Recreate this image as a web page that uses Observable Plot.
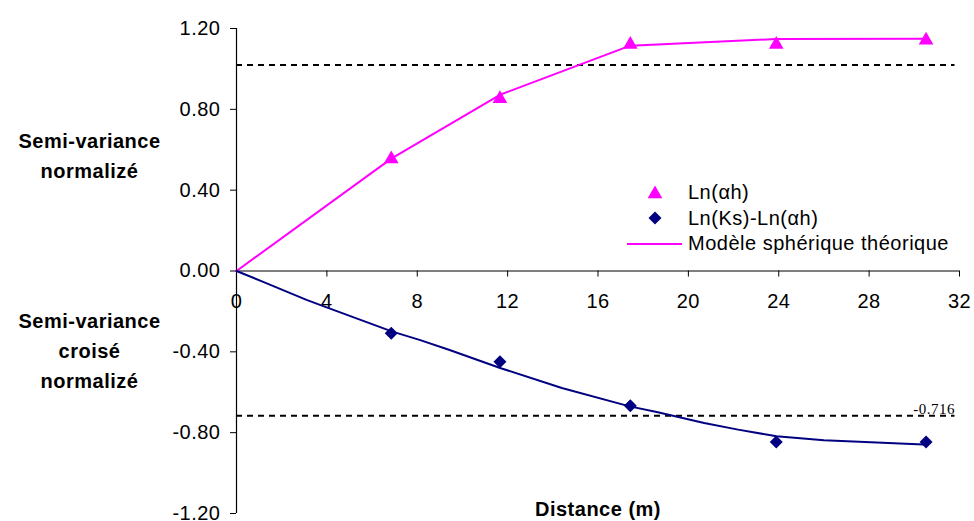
<!DOCTYPE html>
<html><head><meta charset="utf-8">
<script src="https://cdn.jsdelivr.net/npm/d3@7"></script>
<script src="https://cdn.jsdelivr.net/npm/@observablehq/plot@0.6"></script>
<style>body{margin:0;background:#fff} #chart svg{display:block}</style>
</head><body><div id="chart"></div>
<script>
// ---- data ----
const distances = [6.85, 11.66, 17.43, 23.89, 30.52];
const lnAlphaH = [0.564, 0.862, 1.131, 1.131, 1.152];
const lnKsMinusLnAlphaH = [-0.308, -0.449, -0.667, -0.846, -0.846];
const modelDist = [0, 6.85, 11.66, 17.43, 23.89, 30.52];
const modelValue = [0, 0.556, 0.872, 1.115, 1.148, 1.149];
const crossDist = [0, 1.1, 3.1, 3.9, 6.9, 8.1, 9.4, 11.7, 14.4, 17.4, 18.6, 20.7, 22.2, 23.9, 26.0, 30.4];
const crossValue = [0, -0.05, -0.143, -0.176, -0.300, -0.341, -0.390, -0.481, -0.579, -0.670, -0.698, -0.752, -0.785, -0.818, -0.838, -0.859];
const sillValues = [1.02, -0.716];
const sillLabels = ["", "-0.716"];
const xTicks = [0, 4, 8, 12, 16, 20, 24, 28, 32];
const yTicks = [-1.2, -0.8, -0.4, 0, 0.4, 0.8, 1.2];
const legendLabels = ["Ln(αh)", "Ln(Ks)-Ln(αh)", "Modèle sphérique théorique"];
const yTitleTop = "Semi-variance\nnormalizé";
const yTitleBottom = "Semi-variance\ncroisé\nnormalizé";
const xTitle = "Distance (m)";

// ---- derived tables ----
const triPts = distances.map((d, i) => ({x: d, y: lnAlphaH[i]}));
const diaPts = distances.map((d, i) => ({x: d, y: lnKsMinusLnAlphaH[i]}));
const model = modelDist.map((d, i) => ({x: d, y: modelValue[i]}));
const cross = crossDist.map((d, i) => ({x: d, y: crossValue[i]}));
const sills = sillValues.map((v, i) => ({y: v, label: sillLabels[i]}));

const MAG = "#FF00FF", NAVY = "#000080";
const FONT = "'Liberation Sans', Arial, sans-serif";

function legend(index, scales, values, dims) {
  const g = d3.create("svg:g").attr("font-family", FONT).attr("font-size", 20)
    .attr("fill", "#000").attr("text-anchor", "start");
  const x0 = 655, ys = [192, 218, 243], tx = 688;
  g.append("path").attr("transform", `translate(${x0},${ys[0] + 2})`)
    .attr("d", d3.symbol(d3.symbolTriangle, 93)()).attr("fill", MAG);
  g.append("path").attr("transform", `translate(${x0},${ys[1]})`)
    .attr("d", d3.symbol(d3.symbolDiamond2, 108)()).attr("fill", NAVY);
  g.append("line").attr("x1", 627).attr("x2", 682).attr("y1", ys[2] + 1).attr("y2", ys[2] + 1)
    .attr("stroke", MAG).attr("stroke-width", 2);
  legendLabels.forEach((t, i) => {
    g.append("text").attr("x", tx).attr("y", ys[i]).attr("dy", "0.35em").text(t);
  });
  return g.node();
}

const chart = Plot.plot({
  width: 974,
  height: 521,
  marginLeft: 236,
  marginRight: 15,
  marginTop: 28,
  marginBottom: 8,
  style: {fontFamily: FONT, fontSize: "20px", letterSpacing: "0.5px", background: "#fff", color: "#000"},
  x: {domain: [0, 32], axis: null},
  y: {domain: [-1.2, 1.2], axis: null},
  marks: [
    Plot.ruleY(sills, {y: "y", x1: 0, x2: 31.8, stroke: "#000", strokeWidth: 2, strokeDasharray: "6,5"}),
    Plot.text(sills, {x: 31.8, y: "y", text: "label", textAnchor: "end", lineAnchor: "bottom", dy: -2,
      fontFamily: "'Liberation Serif', 'Times New Roman', serif", fontSize: 15, letterSpacing: 0}),
    Plot.ruleX([0], {stroke: "#000", strokeWidth: 1.2}),
    Plot.ruleY([0], {stroke: "#000", strokeWidth: 1.2}),
    Plot.ruleX(xTicks, {x: d => d, y1: 0, y2: -0.03, stroke: "#000"}),
    Plot.text(xTicks, {x: d => d, y: 0, dy: 31, text: d => String(d), fontSize: 20}),
    Plot.axisY(yTicks, {tickFormat: d => d.toFixed(2), tickSize: 6, tickPadding: 10, fontSize: 20, label: null}),
    Plot.line(model, {x: "x", y: "y", stroke: MAG, strokeWidth: 2}),
    Plot.line(cross, {x: "x", y: "y", stroke: NAVY, strokeWidth: 2}),
    Plot.dot(triPts, {x: "x", y: "y", symbol: "triangle", r: 5.45, fill: MAG, dy: 2}),
    Plot.dot(diaPts, {x: "x", y: "y", symbol: "diamond2", r: 5.85, fill: NAVY}),
    legend,
    Plot.text([yTitleTop], {frameAnchor: "top-left", dx: -147, dy: 125, text: d => d, textAnchor: "middle",
      lineAnchor: "middle", fontWeight: "bold", fontSize: 20, lineHeight: 1.5, letterSpacing: 2}),
    Plot.text([yTitleBottom], {frameAnchor: "top-left", dx: -147, dy: 320, text: d => d, textAnchor: "middle",
      lineAnchor: "middle", fontWeight: "bold", fontSize: 20, lineHeight: 1.5, letterSpacing: 2}),
    Plot.text([xTitle], {frameAnchor: "bottom", dy: -4, text: d => d, lineAnchor: "middle",
      fontWeight: "bold", fontSize: 20, letterSpacing: 2})
  ]
});
document.getElementById("chart").appendChild(chart);
</script>
</body></html>
